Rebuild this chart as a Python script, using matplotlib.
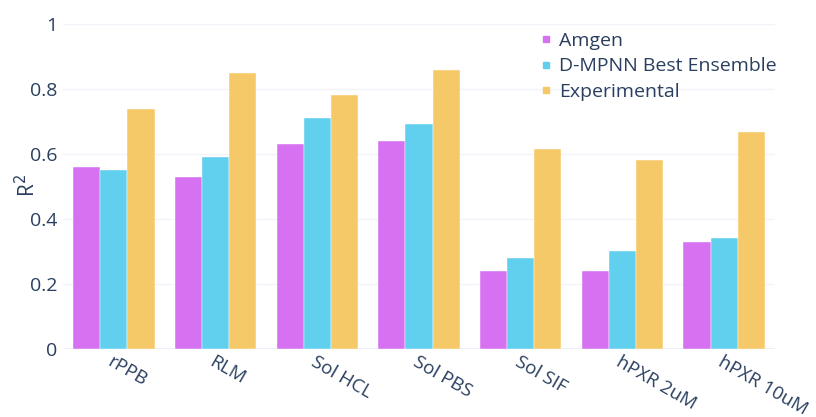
import matplotlib
matplotlib.use("Agg")
import matplotlib.pyplot as plt
from matplotlib.lines import Line2D
import numpy as np

plt.rcParams['font.family'] = ['Open Sans', 'DejaVu Sans']

categories = ["rPPB", "RLM", "Sol HCL", "Sol PBS", "Sol SIF", "hPXR 2uM", "hPXR 10uM"]
amgen = [0.56, 0.53, 0.63, 0.64, 0.24, 0.24, 0.33]
dmpnn = [0.55, 0.59, 0.71, 0.69, 0.28, 0.30, 0.34]
experimental = [0.737, 0.849, 0.782, 0.856, 0.615, 0.58, 0.668]
series_names = ["Amgen", "D-MPNN Best Ensemble", "Experimental"]
colors = ["#D672F2", "#61D0EE", "#F6C968"]
yticks = [0, 0.2, 0.4, 0.6, 0.8, 1]
ytick_labels = ["0", "0.2", "0.4", "0.6", "0.8", "1"]

text_color = "#2a3f5f"

fig = plt.figure(figsize=(8.16, 4.17), dpi=100)
ax = fig.add_axes([63/816, 1 - 349/417, (775 - 63)/816, (349 - 23.6)/417])

x = np.arange(len(categories))
group_w = 0.8
bw = group_w / 3
for i, (vals, name, c) in enumerate(zip([amgen, dmpnn, experimental], series_names, colors)):
    ax.bar(x - group_w/2 + bw/2 + i*bw, vals, width=bw, color=c, label=name, zorder=3,
           edgecolor='white', linewidth=0.3)

ax.set_xlim(-0.5, len(categories) - 0.5)
ax.set_ylim(0, 1)
ax.set_yticks(yticks)
ax.set_yticklabels(ytick_labels)
ax.grid(axis='y', color='#F2F4FA', linewidth=1, zorder=0)
ax.axhline(0, color='#EBF0F8', linewidth=1.5, zorder=2)
for s in ax.spines.values():
    s.set_visible(False)

ax.tick_params(axis='y', length=0, pad=4, labelsize=14, labelcolor=text_color)
ax.tick_params(axis='x', length=0, pad=3, labelsize=13.5, labelcolor=text_color)
ax.set_xticks(x)
ax.set_xticklabels(categories, rotation=-30, ha='left', va='top', rotation_mode='anchor')

ax.set_ylabel("R$^2$", fontsize=15, color=text_color)
ax.yaxis.set_label_coords((40 - 63) / 712, (349 - 186) / 325.4)

handles = [Line2D([0], [0], marker='s', linestyle='none', markersize=4.5,
                  markerfacecolor=c, markeredgecolor=c) for c in colors]
leg = fig.legend(handles, series_names, loc='upper left',
                 bbox_to_anchor=(541/816, 1 - 32/417),
                 frameon=False, fontsize=14, handlelength=0.5,
                 handletextpad=0.45, labelspacing=0.38, borderaxespad=0, borderpad=0)
for t in leg.get_texts():
    t.set_color(text_color)

fig.savefig("out.png", dpi=100)
